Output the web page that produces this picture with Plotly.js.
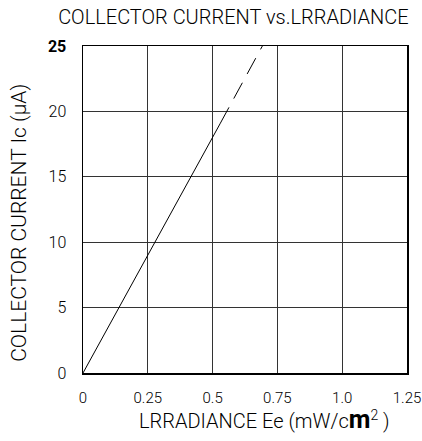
<!DOCTYPE html>
<html><head><meta charset="utf-8">
<script src="https://cdn.plot.ly/plotly-3.0.1.min.js"></script>
<style>html,body{margin:0;padding:0;background:#fff}</style>
</head><body><div id="chart" style="width:422px;height:441px"></div>
<script>
const solidX = [0, 0.53];
const solidY = [0, 19.1];
const dashX = [0.53, 0.692];
const dashY = [19.1, 25];
const xTickVals = [0, 0.25, 0.5, 0.75, 1.0, 1.25];
const xTickText = ['0', '0.25', '0.5', '0.75', '1.0', '1.25'];
const yTickVals = [0, 5, 10, 15, 20, 25];
const yTickText = ['0', '5', '10', '15', '20', '<b>25</b>'];
const chartTitle = 'COLLECTOR CURRENT vs.LRRADIANCE';
const xTitle = 'LRRADIANCE Ee (mW/c<span style="font-size:25px;font-weight:bold">m</span><sup>2</sup> )';
const yTitle = 'COLLECTOR CURRENT Ic (μA)';

const thin = 'Roboto, "Open Sans", sans-serif';
const traces = [
  {x: solidX, y: solidY, mode: 'lines', line: {color: '#000', width: 1}, hoverinfo: 'skip'},
  {x: dashX, y: dashY, mode: 'lines', line: {color: '#000', width: 1, dash: '18px,10px'}, hoverinfo: 'skip'}
];
const layout = {
  width: 422, height: 441,
  margin: {l: 83, r: 15, t: 46, b: 68},
  paper_bgcolor: '#fff', plot_bgcolor: '#fff',
  showlegend: false,
  title: {text: chartTitle, font: {family: thin, size: 20, weight: 300, color: '#000'}, x: 0.553, xref: 'container', xanchor: 'center', y: 0.961, yanchor: 'middle'},
  xaxis: {
    range: [0, 1.25], tickvals: xTickVals, ticktext: xTickText,
    showgrid: true, gridcolor: '#333', gridwidth: 1,
    showline: true, linecolor: '#000', linewidth: 1.5, mirror: true,
    zeroline: false, ticks: '', ticklabelstandoff: 10,
    tickfont: {family: thin, size: 15, weight: 300, color: '#000'}
  },
  yaxis: {
    range: [0, 25], tickvals: yTickVals, ticktext: yTickText,
    showgrid: true, gridcolor: '#333', gridwidth: 1,
    showline: true, linecolor: '#000', linewidth: 1.5, mirror: true,
    zeroline: false, ticks: '', ticklabelstandoff: 12,
    tickfont: {family: thin, size: 16, weight: 300, color: '#000'}
  },
  annotations: [
    {text: xTitle, xref: 'paper', yref: 'paper', x: 0.56, y: -0.143, xanchor: 'center', yanchor: 'middle', showarrow: false,
     font: {family: thin, size: 20, weight: 300, color: '#000'}},
    {text: yTitle, xref: 'paper', yref: 'paper', x: -0.2, y: 0.46, xanchor: 'center', yanchor: 'middle', showarrow: false, textangle: -90,
     font: {family: thin, size: 21, weight: 300, color: '#000'}}
  ]
};
Plotly.newPlot('chart', traces, layout, {staticPlot: true, displayModeBar: false});
</script></body></html>
